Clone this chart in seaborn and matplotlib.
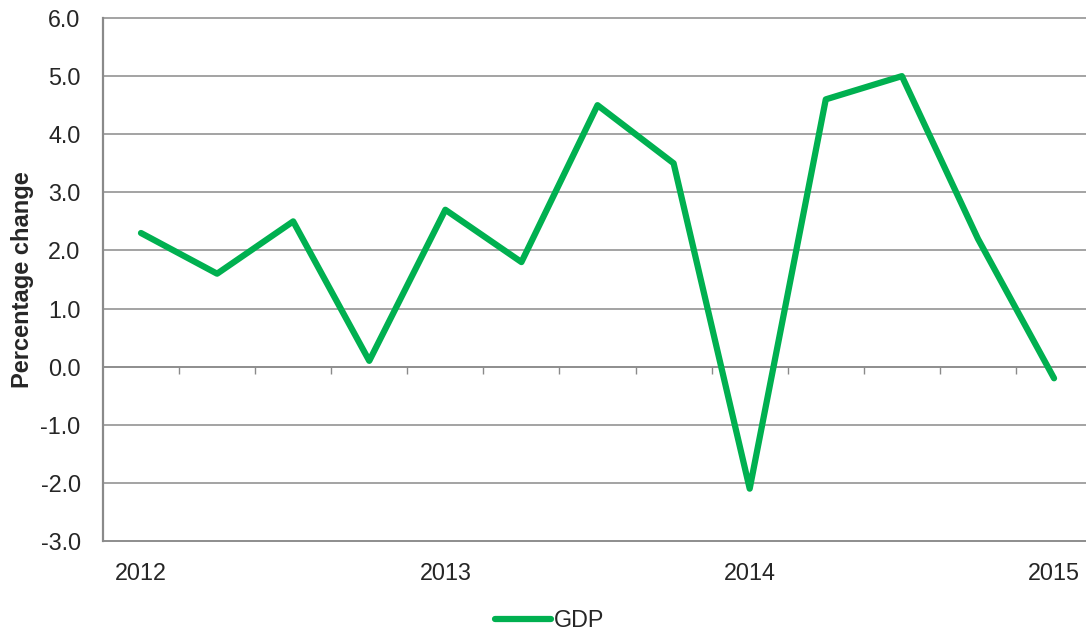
import pandas as pd
import matplotlib
matplotlib.use("Agg")
import matplotlib.pyplot as plt
import seaborn as sns

# datos trimestrales del PIB (variación porcentual)
trimestres = ["2012 Q1", "2012 Q2", "2012 Q3", "2012 Q4",
              "2013 Q1", "2013 Q2", "2013 Q3", "2013 Q4",
              "2014 Q1", "2014 Q2", "2014 Q3", "2014 Q4",
              "2015 Q1"]
pib = [2.3, 1.6, 2.5, 0.1, 2.7, 1.8, 4.5, 3.5, -2.1, 4.6, 5.0, 2.2, -0.2]
etiquetas_anio = ["2012", "2013", "2014", "2015"]

datos = pd.DataFrame({"trimestre": trimestres, "GDP": pib})
datos["pos"] = range(len(datos))

sns.set_style("white")
plt.rcParams['font.family'] = ['Liberation Sans', 'DejaVu Sans']

gris = "#8a8a8a"
verde = "#00b050"

fig = plt.figure(figsize=(10.86, 6.32), dpi=100)
ax = fig.add_axes([0.0948, 0.144, 0.9052, 0.8275])

sns.lineplot(data=datos, x="pos", y="GDP", ax=ax, color=verde, linewidth=4.5,
             label="GDP", solid_capstyle="round", solid_joinstyle="round")

ax.set_ylim(-3, 6)
ax.set_xlim(-0.5, 12.42)
ax.set_yticks(range(-3, 7))
ax.set_yticklabels([f"{v:.1f}" for v in range(-3, 7)], fontsize=16.8)

# años debajo del eje, sin marcas
pos_anios = [datos.loc[datos["trimestre"] == a + " Q1", "pos"].iloc[0] for a in etiquetas_anio]
ax.set_xticks(pos_anios)
ax.set_xticklabels(etiquetas_anio, fontsize=16.8)
ax.tick_params(axis="x", length=0, pad=15)
ax.tick_params(axis="y", length=5, width=1, color=gris, direction="out", pad=11)

ax.set_xlabel("")
ax.set_ylabel("Percentage change", fontsize=17, fontweight="bold", labelpad=5)

ax.yaxis.grid(True, color=gris, linewidth=1.1)
for linea in ax.get_ygridlines():
    linea.set_clip_on(False)
ax.set_axisbelow(True)

for lado in ["top", "right"]:
    ax.spines[lado].set_visible(False)
ax.spines["left"].set_color(gris)
ax.spines["left"].set_linewidth(1.6)
ax.spines["bottom"].set_color(gris)
ax.spines["bottom"].set_linewidth(1.1)

# marcas entre trimestres sobre la linea del cero
sec = ax.secondary_xaxis(3 / 9)
sec.set_xticks([p + 0.5 for p in datos["pos"][:-1]])
sec.tick_params(axis="x", length=5, width=1, color=gris, labelbottom=False, labeltop=False)
sec.spines["bottom"].set_color(gris)
sec.spines["bottom"].set_linewidth(1.1)
sec.spines["top"].set_visible(False)

ax.get_legend().remove()
fig.legend(loc="center", bbox_to_anchor=(0.506, 0.018), frameon=False,
           fontsize=16.8, handlelength=2.4, handletextpad=0.15)

fig.savefig("out.png", dpi=100)
